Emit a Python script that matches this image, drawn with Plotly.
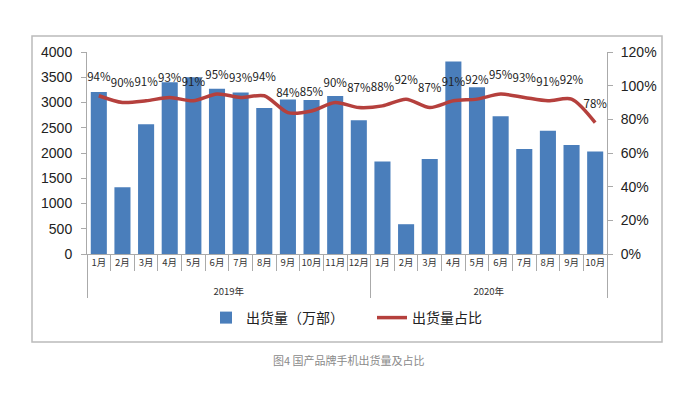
import plotly.graph_objects as go

years = ["<br>2019年"] * 12 + ["<br>2020年"] * 10
months = ["1月", "2月", "3月", "4月", "5月", "6月", "7月", "8月", "9月", "10月", "11月", "12月",
          "1月", "2月", "3月", "4月", "5月", "6月", "7月", "8月", "9月", "10月"]
shipments = [3210, 1320, 2570, 3400, 3500, 3270, 3200, 2890, 3060, 3050, 3130, 2650,
             1830, 590, 1880, 3810, 3300, 2730, 2080, 2440, 2160, 2030]
share = [94, 90, 91, 93, 91, 95, 93, 94, 84, 85, 90, 87,
         88, 92, 87, 91, 92, 95, 93, 91, 92, 78]

W, H = 687, 393
L, R, T, B = 87, 607, 52, 254
pw, ph = R - L, B - T


def px_x(x):
    return (x - L) / pw


def px_y(y):
    return (B - y) / ph


CJK = "Noto Sans CJK SC"
fig = go.Figure()
fig.add_trace(go.Bar(
    x=[years, months], y=shipments, name="出货量（万部）",
    marker=dict(color="#4a7ebb", line=dict(width=0)),
))
fig.add_trace(go.Scatter(
    x=[years, months], y=[v / 100 for v in share], name="出货量占比", yaxis="y2",
    mode="lines+markers+text", line=dict(color="#b5403d", width=3.5, shape="spline", smoothing=0.8),
    marker=dict(size=18, color="rgba(0,0,0,0)", line=dict(width=0)),
    text=[f"{v}%" for v in share], textposition="top center",
    textfont=dict(family=CJK, size=11.5, color="#222"),
))

fig.update_layout(
    width=W, height=H,
    margin=dict(l=L, r=W - R, t=T, b=H - B, autoexpand=False),
    paper_bgcolor="white", plot_bgcolor="white",
    bargap=0.32,
    showlegend=True,
    legend=dict(orientation="h", x=px_x(206), xanchor="left", y=px_y(318), yanchor="middle",
                font=dict(family=CJK, size=14, color="#222"), itemwidth=30,
                entrywidth=121, traceorder="normal"),
    xaxis=dict(type="multicategory", range=[-0.5, len(months) - 0.5],
               showline=True, linecolor="#aaaaaa", linewidth=1,
               ticks="outside", ticklen=16, tickcolor="#aaaaaa", tickangle=0,
               showdividers=True, dividercolor="#aaaaaa", dividerwidth=1, automargin=False,
               tickfont=dict(family=CJK, size=9.5, color="#333"), showgrid=False),
    yaxis=dict(range=[0, 4000], dtick=500, showline=True, linecolor="#aaaaaa",
               ticks="outside", ticklen=5, tickcolor="#aaaaaa", showgrid=False, automargin=False,
               ticklabelstandoff=6,
               zeroline=False, tickfont=dict(family="Liberation Sans", size=14, color="#222")),
    yaxis2=dict(range=[0, 1.2], dtick=0.2, tickformat=".0%", overlaying="y", side="right",
                showline=True, linecolor="#aaaaaa", ticks="outside", ticklen=5, automargin=False,
                ticklabelstandoff=5,
                tickcolor="#aaaaaa", showgrid=False, zeroline=False,
                tickfont=dict(family="Liberation Sans", size=14, color="#222")),
    shapes=[dict(type="rect", xref="paper", yref="paper",
                 x0=px_x(32), x1=px_x(662), y0=px_y(342), y1=px_y(36),
                 line=dict(color="#bbbbbb", width=1.5), layer="below")],
    annotations=[dict(text="图4 国产品牌手机出货量及占比", xref="paper", yref="paper",
                      x=px_x(349), y=px_y(370), showarrow=False,
                      font=dict(family=CJK, size=11, color="#8a8a8a"))],
)

fig.write_html("out.html", config={"displayModeBar": False},
               post_script="document.body.style.margin='0';")
